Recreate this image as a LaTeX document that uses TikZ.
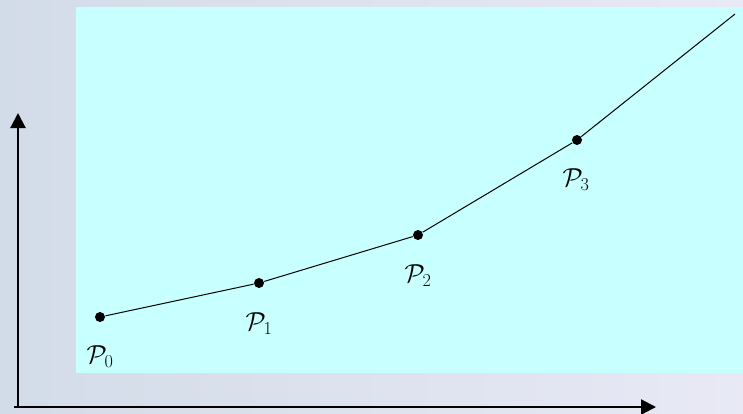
\RequirePackage{fix-cm}
\documentclass[tikz,border=0pt]{standalone}
\usepackage{amsmath}
\usetikzlibrary{arrows.meta}
\definecolor{bgleft}{HTML}{D2DCE8}
\definecolor{bgright}{HTML}{E8E9F5}
\definecolor{panel}{HTML}{C8FFFF}

\begin{document}
\begin{tikzpicture}[x=1pt,y=-1pt,line width=1pt,>={Triangle[length=15pt,width=15pt]},
  dot/.style={circle,fill=black,inner sep=0pt,minimum size=10pt},
  lbl/.style={inner sep=0pt,font=\fontsize{26}{28}\selectfont}]
  \useasboundingbox (0,0) rectangle (743,413);
  \shade[left color=bgleft,right color=bgright] (0,0) rectangle (743,413);
  \fill[panel] (76,7) rectangle (743,373);
  % axes
  \coordinate (o) at (18,407);
  \coordinate (ytip) at (18,113);
  \coordinate (xtip) at (656,407);
  \coordinate (xstart) at (14,407);
  \draw[->,line width=2.2pt] (o) -- (ytip);
  \draw[->,line width=2.2pt] (xstart) -- (xtip);
  % control points and polygon
  \node[dot] (p0) at (100,317) {};
  \node[dot] (p1) at (259,283) {};
  \node[dot] (p2) at (418,235) {};
  \node[dot] (p3) at (577,140) {};
  \coordinate (pend) at (735,14);
  \draw (p0) -- (p1) -- (p2) -- (p3) -- (pend);
  \node[lbl] (l0) at (100,357) {$\mathcal{P}_0$};
  \node[lbl] (l1) at (259,324) {$\mathcal{P}_1$};
  \node[lbl] (l2) at (418,276) {$\mathcal{P}_2$};
  \node[lbl] (l3) at (576,180) {$\mathcal{P}_3$};
\end{tikzpicture}
\end{document}
